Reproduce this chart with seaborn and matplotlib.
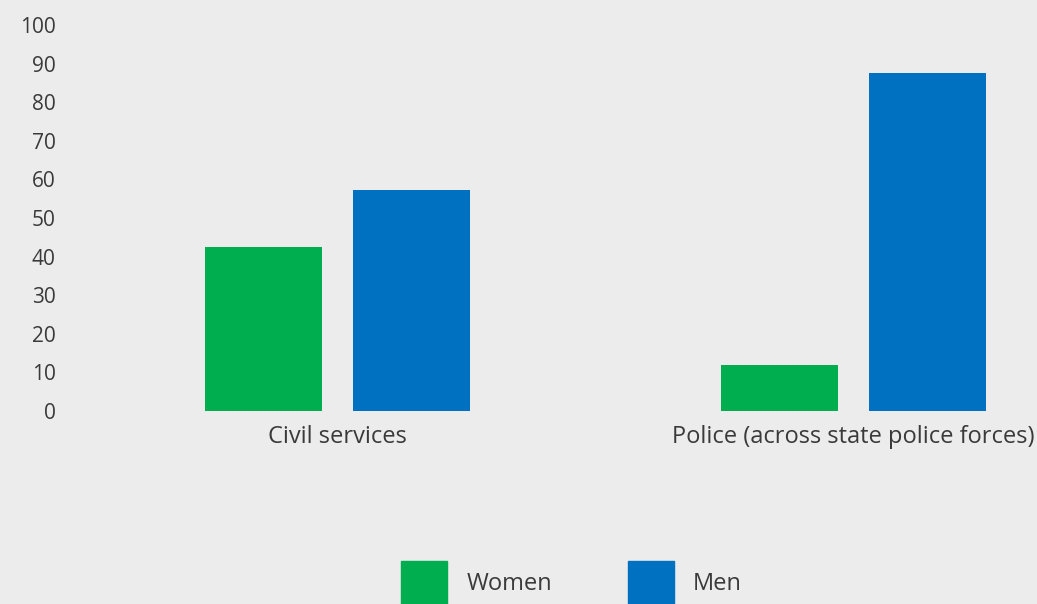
import pandas as pd
import matplotlib
matplotlib.use("Agg")
import matplotlib.pyplot as plt
import seaborn as sns

# values (percent)
categories = ["Civil services", "Police (across state police forces)"]
women = [42.5, 12.0]
men = [57.2, 87.6]
groups = ["Women", "Men"]
y_ticks = [0, 10, 20, 30, 40, 50, 60, 70, 80, 90, 100]

BG = "#EBECEB"
TEXT = "#3A3A3A"
palette = {"Women": "#00AE4F", "Men": "#0070C0"}

df = pd.DataFrame({
    "Category": categories * 2,
    "Group": ["Women"] * len(categories) + ["Men"] * len(categories),
    "Share": women + men,
})

sns.set_theme(style="white")
plt.rcParams["font.family"] = ["Open Sans", "DejaVu Sans"]

fig = plt.figure(figsize=(10.37, 6.04), dpi=100, facecolor=BG)
ax = fig.add_axes([60 / 1037, 193 / 604, 977 / 1037, 386 / 604])
ax.set_facecolor(BG)

sns.barplot(data=df, x="Category", y="Share", hue="Group", hue_order=groups,
            palette=palette, width=0.574, gap=0.21, saturation=1,
            edgecolor="none", linewidth=0, legend=False, ax=ax)

ax.set_xlim(-0.538, 1.356)
ax.set_ylim(0, 100)
ax.set_yticks(y_ticks)
ax.set_xlabel("")
ax.set_ylabel("")
ax.tick_params(axis="y", length=0, pad=3, labelsize=15, labelcolor=TEXT)
ax.tick_params(axis="x", length=0, pad=10, labelsize=17, labelcolor=TEXT)
sns.despine(ax=ax, left=True, bottom=True)

handles = [plt.Rectangle((0, 0), 1, 1, color=palette[g]) for g in groups]
fig.legend(handles, groups, loc="center", bbox_to_anchor=(0.551, 0.035),
           ncol=2, frameon=False, fontsize=17, labelcolor=TEXT,
           handlelength=1.95, handleheight=2.5, handletextpad=0.8,
           columnspacing=3.2)

fig.savefig("out.png", dpi=100, facecolor=BG)
